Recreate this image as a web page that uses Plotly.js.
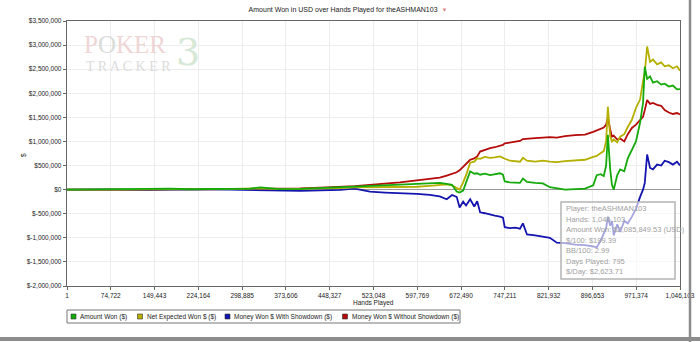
<!DOCTYPE html>
<html>
<head>
<meta charset="utf-8">
<script src="https://cdn.plot.ly/plotly-3.0.1.min.js"></script>
<style>html,body{margin:0;padding:0;background:#fff;}#chart{width:700px;height:342px;}</style>
</head>
<body>
<div id="chart"></div>
<script>
// ---- data ----
const hands = [1, 22000, 48000, 75000, 107000, 140000, 176000, 210000, 244000, 278000,
  312000, 330000, 364000, 398000, 432000, 466000, 491000, 517000, 543000, 568000,
  597000, 619000, 636000, 648000, 657000, 665000, 670000, 676000, 681000, 688000,
  695000, 700000, 705000, 713000, 722000, 730000, 739000, 744000, 747000, 756000,
  765000, 773000, 778000, 785000, 799000, 812000, 824000, 836000, 850000, 867000,
  884000, 898000, 904000, 911000, 916000, 920000, 923000, 927000, 930000, 933000,
  939000, 944000, 951000, 957000, 964000, 971000, 978000, 983000, 986000, 990000,
  995000, 1000000, 1007000, 1014000, 1020000, 1027000, 1034000, 1041000, 1046103];

const amountWon = [0, 3000, -4000, 6000, 2000, 18000, 22000, 8000, 15000, 30000,
  22000, 45000, 12000, 15000, 35000, 50000, 70000, 90000, 100000, 105000,
  120000, 130000, 140000, 120000, 100000, -40000, -60000, -20000, 150000, 380000,
  330000, 340000, 310000, 330000, 300000, 320000, 340000, 310000, 170000, 150000,
  140000, 140000, 230000, 160000, 140000, 130000, 50000, 20000, 0, 10000,
  20000, 90000, 300000, 320000, 280000, 500000, 1140000, 420000, 100000, 0,
  300000, 420000, 380000, 650000, 830000, 1000000, 1390000, 1800000, 2550000, 2300000,
  2350000, 2220000, 2250000, 2180000, 2200000, 2140000, 2160000, 2080000, 2085849.53];

const netExpectedWon = [0, -3000, 2000, -5000, 0, 5000, 3000, 0, 10000, 15000,
  20000, 25000, 10000, 15000, 25000, 30000, 45000, 50000, 55000, 60000,
  60000, 80000, 100000, 110000, 90000, 30000, 0, 150000, 300000, 560000,
  580000, 650000, 640000, 680000, 660000, 670000, 690000, 660000, 640000, 600000,
  590000, 580000, 660000, 600000, 580000, 600000, 580000, 570000, 590000, 610000,
  620000, 680000, 700000, 760000, 800000, 1000000, 1720000, 1100000, 1000000, 1040000,
  980000, 1100000, 1150000, 1300000, 1450000, 1700000, 1870000, 2250000, 2430000, 2970000,
  2650000, 2700000, 2600000, 2640000, 2560000, 2580000, 2520000, 2560000, 2470000];

const wonWithShowdown = [0, 3000, 0, 5000, -3000, 0, 8000, -2000, 5000, 0,
  -5000, -20000, -10000, -25000, -15000, -5000, 20000, -40000, -60000, -70000,
  -90000, -110000, -140000, -200000, -110000, -150000, -370000, -250000, -330000, -200000,
  -350000, -240000, -470000, -490000, -520000, -540000, -560000, -580000, -780000, -800000,
  -790000, -810000, -700000, -930000, -950000, -980000, -1000000, -1100000, -1110000, -1140000,
  -1150000, -1180000, -1200000, -1050000, -900000, -800000, -560000, -750000, -650000, -950000,
  -720000, -880000, -650000, -700000, -560000, -400000, -150000, 0, 140000, 730000,
  450000, 420000, 520000, 500000, 600000, 570000, 520000, 580000, 500000];

const wonWithoutShowdown = [0, -2000, 0, -8000, -10000, -5000, 5000, 0, 8000, 10000,
  12000, 20000, 15000, 25000, 40000, 55000, 70000, 100000, 120000, 150000,
  190000, 220000, 250000, 290000, 320000, 360000, 400000, 480000, 550000, 620000,
  650000, 690000, 790000, 830000, 860000, 880000, 910000, 930000, 960000, 980000,
  1000000, 1010000, 1050000, 1060000, 1070000, 1080000, 1090000, 1080000, 1110000, 1130000,
  1140000, 1200000, 1230000, 1260000, 1290000, 1350000, 1500000, 1250000, 1100000, 1120000,
  1040000, 1060000, 1000000, 1150000, 1280000, 1350000, 1450000, 1510000, 1650000, 1860000,
  1780000, 1800000, 1760000, 1740000, 1650000, 1600000, 1570000, 1590000, 1560000];

const seriesNames = ["Amount Won ($)", "Net Expected Won $ ($)", "Money Won $ With Showdown ($)", "Money Won $ Without Showdown ($)"];

const xTickVals = [1, 74722, 149443, 224164, 298885, 373606, 448327, 523048, 597769, 672490, 747211, 821932, 896653, 971374, 1046103];
const xTickText = ["1", "74,722", "149,443", "224,164", "298,885", "373,606", "448,327", "523,048", "597,769", "672,490", "747,211", "821,932", "896,653", "971,374", "1,046,103"];
const yTickVals = [3500000, 3000000, 2500000, 2000000, 1500000, 1000000, 500000, 0, -500000, -1000000, -1500000, -2000000];
const yTickText = ["$3,500,000", "$3,000,000", "$2,500,000", "$2,000,000", "$1,500,000", "$1,000,000", "$500,000", "$0", "$-500,000", "$-1,000,000", "$-1,500,000", "$-2,000,000"];

const statLines = ["Player: theASHMAN103", "Hands: 1,046,103", "Amount Won: $2,085,849.53 (USD)", "$/100: $199.39", "BB/100: 2.99", "Days Played: 795", "$/Day: $2,623.71"];

// ---- styles ----
const colors = ["rgb(20,170,10)", "rgb(180,175,0)", "rgb(20,20,175)", "rgb(180,10,10)"];
const FONT = "Liberation Sans, Arial, sans-serif";
const L = 67, T = 21, PW = 613, PH = 265;
const px = x => (x - L) / PW;
const py = y => (T + PH - y) / PH;

const seriesData = [amountWon, netExpectedWon, wonWithShowdown, wonWithoutShowdown];
const drawOrder = [3, 2, 1, 0];
const traces = drawOrder.map(i => ({
  type: "scatter", mode: "lines", x: hands, y: seriesData[i], name: seriesNames[i],
  line: {color: colors[i], width: 1.8}, showlegend: false, hoverinfo: "skip"
}));

const shapes = [];
const annotations = [];

// legend (custom, squares like reference)
shapes.push({type: "rect", xref: "paper", yref: "paper", x0: px(67), x1: px(460), y0: py(310), y1: py(323),
  line: {color: "#777", width: 1}, fillcolor: "rgba(0,0,0,0)"});
const legSq = [73.5, 140, 227.5, 345];
const legTx = [78, 145, 232, 350];
for (let i = 0; i < 4; i++) {
  shapes.push({type: "rect", xref: "paper", yref: "paper", x0: px(legSq[i] - 2.5), x1: px(legSq[i] + 2.5),
    y0: py(319), y1: py(314), fillcolor: colors[i], line: {color: "#333", width: 0.6}});
  annotations.push({xref: "paper", yref: "paper", x: px(legTx[i]), y: py(316.5), xanchor: "left", yanchor: "middle",
    text: seriesNames[i], showarrow: false, font: {family: FONT, size: 6.5, color: "#222"}});
}

// tooltip-like info box
shapes.push({type: "rect", xref: "paper", yref: "paper", x0: px(561), x1: px(675), y0: py(279), y1: py(202),
  fillcolor: "rgba(255,255,255,0.62)", line: {color: "#b4b4b4", width: 1.5}, layer: "above"});
statLines.forEach((s, k) => {
  annotations.push({xref: "paper", yref: "paper", x: px(564), y: py(208.5 + k * 10.5), xanchor: "left", yanchor: "middle",
    text: s, showarrow: false, font: {family: FONT, size: 7.5, color: "#a0a0a0"}});
});

// frame lines of the window
shapes.push({type: "line", xref: "paper", yref: "paper", x0: px(690), x1: px(690), y0: py(0), y1: py(342),
  line: {color: "#8c8c8c", width: 2.5}});
shapes.push({type: "line", xref: "paper", yref: "paper", x0: px(0), x1: px(700), y0: py(339), y1: py(339),
  line: {color: "#8c8c8c", width: 4}});

// y-axis title
annotations.push({xref: "paper", yref: "paper", x: px(23), y: py(155), xanchor: "center", yanchor: "middle",
  text: "$", textangle: -90, showarrow: false, font: {family: FONT, size: 6.5, color: "#222"}});
// x-axis title
annotations.push({xref: "paper", yref: "paper", x: px(373), y: py(302.5), xanchor: "center", yanchor: "middle",
  text: "Hands Played", showarrow: false, font: {family: FONT, size: 6.5, color: "#222"}});

// watermark
annotations.push({xref: "paper", yref: "paper", x: px(82), y: py(44), xanchor: "left", yanchor: "middle", showarrow: false,
  text: '<span style="color:#efd6d6">P</span><span style="color:#d9dcd9">O</span><span style="color:#efd6d6">KER</span>',
  font: {family: "Liberation Serif, serif", size: 25}});
annotations.push({xref: "paper", yref: "paper", x: px(84), y: py(66), xanchor: "left", yanchor: "middle", showarrow: false,
  text: "T R A C K E R", font: {family: "Liberation Serif, serif", size: 14, color: "#dcdcdc"}});
annotations.push({xref: "paper", yref: "paper", x: px(174), y: py(52), xanchor: "left", yanchor: "middle", showarrow: false,
  text: "3", font: {family: "DejaVu Serif, serif", size: 38, color: "#d6e8d6"}});

const layout = {
  width: 700, height: 342,
  margin: {l: L, r: 700 - L - PW, t: T, b: 342 - T - PH, pad: 0},
  paper_bgcolor: "#fff", plot_bgcolor: "#fff",
  showlegend: false,
  title: {text: 'Amount Won in USD over Hands Played for theASHMAN103 &nbsp;<span style="color:#e08a8a;font-size:6px">▼</span>',
    x: 348 / 700, xanchor: "center", y: 1 - 10 / 342, yanchor: "middle", font: {family: FONT, size: 7, color: "#222"}},
  xaxis: {range: [1, 1046103], tickvals: xTickVals, ticktext: xTickText, showgrid: true, gridcolor: "#ededed", gridwidth: 1,
    zeroline: false, showline: true, linecolor: "#666", linewidth: 1.3, mirror: true, ticks: "outside", ticklen: 3,
    tickcolor: "#666", tickfont: {family: FONT, size: 6.5, color: "#222"}},
  yaxis: {range: [-2000000, 3500000], tickvals: yTickVals, ticktext: yTickText, showgrid: true, gridcolor: "#ededed", gridwidth: 1,
    zeroline: true, zerolinecolor: "#999", zerolinewidth: 1.5, showline: true, linecolor: "#666", linewidth: 1.3, mirror: true,
    ticks: "outside", ticklen: 3, tickcolor: "#666", tickfont: {family: FONT, size: 6.5, color: "#222"}},
  shapes: shapes,
  annotations: annotations
};

Plotly.newPlot("chart", traces, layout, {displayModeBar: false, staticPlot: true});
</script>
</body>
</html>
